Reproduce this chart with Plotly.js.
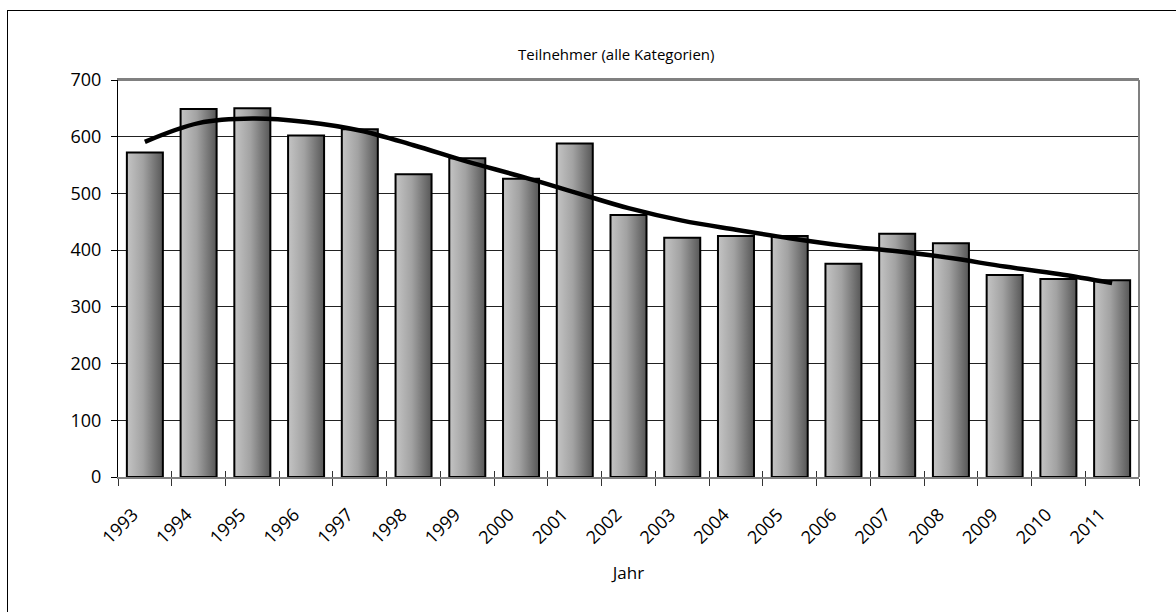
<!DOCTYPE html>
<html>
<head>
<meta charset="utf-8">
<script src="https://cdn.plot.ly/plotly-3.0.1.min.js"></script>
<style>
  html, body { margin: 0; padding: 0; background: #fff; }
  #frame { position: absolute; left: 7px; top: 10px; width: 1169px; height: 602px;
           border-left: 1px solid #000; border-top: 1px solid #000;
           pointer-events: none; z-index: 5; }
  #chart { position: absolute; left: 0; top: 0; width: 1176px; height: 612px; }
</style>
</head>
<body>
<div id="chart"></div>
<div id="frame"></div>
<script>
const years = ["1993","1994","1995","1996","1997","1998","1999","2000","2001","2002",
               "2003","2004","2005","2006","2007","2008","2009","2010","2011"];
const participants = [572, 649, 650, 602, 613, 534, 562, 526, 588, 462,
                      422, 425, 425, 376, 429, 412, 356, 349, 347];
const trendValues = [591, 624, 632, 626, 611, 585, 556, 530, 502, 474,
                     452, 436, 421, 408, 398, 386, 371, 358, 342];
const yTicks = [0, 100, 200, 300, 400, 500, 600, 700];

const FONT = "Open Sans, Lato, sans-serif";

const traces = [
  {
    type: "bar",
    x: years,
    y: participants,
    marker: { color: "#9a9a9a", line: { color: "#000", width: 2 } },
    hoverinfo: "skip"
  },
  {
    type: "scatter",
    mode: "lines",
    x: years,
    y: trendValues,
    xaxis: "x2",
    line: { color: "#000", width: 4.5, shape: "spline", smoothing: 1.0 },
    hoverinfo: "skip"
  }
];

const layout = {
  width: 1176,
  height: 612,
  margin: { l: 118, r: 37, t: 80, b: 134.5 },
  paper_bgcolor: "#fff",
  plot_bgcolor: "#fff",
  showlegend: false,
  bargap: 0.33,
  title: {
    text: "Teilnehmer (alle Kategorien)",
    font: { family: FONT, size: 15, color: "#000" },
    x: 0.524, xanchor: "center",
    y: 0.91, yanchor: "middle"
  },
  xaxis: {
    type: "category",
    tickson: "boundaries",
    ticks: "outside",
    ticklen: 7,
    tickcolor: "#333",
    tickwidth: 1,
    tickangle: -45,
    ticklabelstandoff: 18,
    ticklabelshift: -12,
    tickfont: { family: FONT, size: 18, color: "#000" },
    showline: true,
    linecolor: "#808080",
    linewidth: 2,
    mirror: true,
    showgrid: false,
    title: { text: "Jahr", font: { family: FONT, size: 17, color: "#000" }, standoff: 19 }
  },
  xaxis2: {
    type: "category",
    overlaying: "x",
    matches: "x",
    tickson: "boundaries",
    ticks: "inside",
    ticklen: 6,
    tickcolor: "#333",
    tickwidth: 1,
    showticklabels: false,
    showline: false,
    showgrid: false,
    side: "bottom"
  },
  yaxis: {
    range: [0, 700],
    tickvals: yTicks,
    ticks: "outside",
    ticklen: 6,
    tickcolor: "#000",
    ticklabelstandoff: 6,
    tickfont: { family: FONT, size: 18, color: "#000" },
    showline: true,
    linecolor: "#000",
    linewidth: 1,
    showgrid: true,
    gridcolor: "#222",
    gridwidth: 1,
    zeroline: false
  },
  shapes: [
    { type: "line", xref: "paper", yref: "paper", x0: 1, x1: 1, y0: 0, y1: 1,
      line: { color: "#808080", width: 2 } },
    { type: "line", xref: "paper", yref: "paper", x0: 0, x1: 1, y0: 1, y1: 1,
      line: { color: "#808080", width: 2 } }
  ]
};

Plotly.newPlot("chart", traces, layout, { staticPlot: true, displayModeBar: false }).then(function (gd) {
  const svg = gd.querySelector("svg.main-svg");
  const ns = "http://www.w3.org/2000/svg";
  let defs = svg.querySelector("defs");
  if (!defs) { defs = document.createElementNS(ns, "defs"); svg.insertBefore(defs, svg.firstChild); }
  const grad = document.createElementNS(ns, "linearGradient");
  grad.setAttribute("id", "barGrad");
  grad.setAttribute("x1", "0"); grad.setAttribute("y1", "0");
  grad.setAttribute("x2", "1"); grad.setAttribute("y2", "0");
  [["0", "#c4c4c4"], ["0.45", "#a2a2a2"], ["1", "#575757"]].forEach(function (s) {
    const st = document.createElementNS(ns, "stop");
    st.setAttribute("offset", s[0]);
    st.setAttribute("stop-color", s[1]);
    grad.appendChild(st);
  });
  defs.appendChild(grad);
  gd.querySelectorAll("g.trace.bars g.point path").forEach(function (p) {
    p.style.fill = "url(#barGrad)";
  });
});
</script>
</body>
</html>
